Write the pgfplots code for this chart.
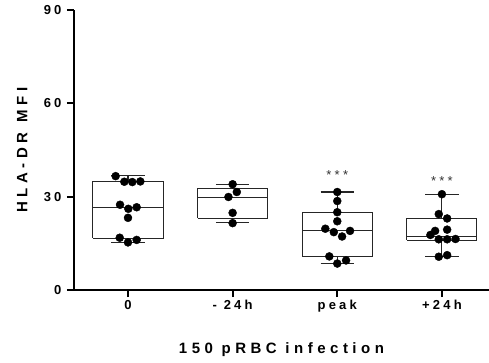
\documentclass[border=0pt]{standalone}
\usepackage{fontspec}
\setmainfont{Liberation Sans}
\newfontfamily\spaced{Liberation Sans}[LetterSpace=25]
\newfontfamily\spacedl{Liberation Sans}[LetterSpace=30]
\usepackage{pgfplots}
\pgfplotsset{compat=1.18}
\begin{document}
\begin{tikzpicture}
\begin{axis}[
 scale only axis, width=415pt, height=280pt,
 xmin=-0.516, xmax=3.45, ymin=0, ymax=90,
 unbounded coords=jump,
 axis lines=left, axis line style={-, line width=2pt, black},
 xtick={0,1,2,3}, xticklabels={0,- 24h,peak,+24h},
 ytick={0,30,60,90},
 tick align=outside, major tick length=7pt, tick style={line width=2pt, black},
 /pgf/number format/assume math mode=true,
 tick label style={font=\fontsize{13}{15}\selectfont\spaced\bfseries},
 yticklabel style={xshift=-2pt},
 xlabel={150 pRBC infection}, ylabel={\hbox{HLA-DR}\kern0.7em\hbox{MFI}},
 label style={font=\fontsize{15}{18}\selectfont\spacedl\bfseries},
 xlabel style={at={(axis description cs:0.5,-0.214)}, anchor=center},
 ylabel style={at={(axis description cs:-0.125,0.5)}, anchor=center},
 clip=false,
]
% box plots: box (q1..q3), median, whiskers with caps
\addplot[black!85, line width=1.05pt, mark=none] coordinates {
(-0.335,16.7) (0.335,16.7) (0.335,35.0) (-0.335,35.0) (-0.335,16.7) (nan,nan)
(-0.335,26.5) (0.335,26.5) (nan,nan) (0,35.0) (0,36.7) (nan,nan) (-0.16,36.7) (0.16,36.7) (nan,nan)
(0,16.7) (0,15.3) (nan,nan) (-0.16,15.3) (0.16,15.3)};
\addplot[black!85, line width=1.05pt, mark=none] coordinates {
(0.665,23.1) (1.335,23.1) (1.335,32.6) (0.665,32.6) (0.665,23.1) (nan,nan)
(0.665,29.8) (1.335,29.8) (nan,nan) (1,32.6) (1,33.9) (nan,nan) (0.84,33.9) (1.16,33.9) (nan,nan)
(1,23.1) (1,21.6) (nan,nan) (0.84,21.6) (1.16,21.6)};
\addplot[black!85, line width=1.05pt, mark=none] coordinates {
(1.665,10.7) (2.335,10.7) (2.335,25.0) (1.665,25.0) (1.665,10.7) (nan,nan)
(1.665,19.0) (2.335,19.0) (nan,nan) (2,25.0) (2,31.5) (nan,nan) (1.84,31.5) (2.16,31.5) (nan,nan)
(2,10.7) (2,8.6) (nan,nan) (1.84,8.6) (2.16,8.6)};
\addplot[black!85, line width=1.05pt, mark=none] coordinates {
(2.665,16.0) (3.335,16.0) (3.335,22.9) (2.665,22.9) (2.665,16.0) (nan,nan)
(2.665,17.2) (3.335,17.2) (nan,nan) (3,22.9) (3,30.8) (nan,nan) (2.84,30.8) (3.16,30.8) (nan,nan)
(3,16.0) (3,10.8) (nan,nan) (2.84,10.8) (3.16,10.8)};

\addplot[only marks, mark=*, mark size=4pt, black] coordinates {
(-0.118,36.6) (-0.035,34.8) (0.041,34.7) (0.118,34.9) (-0.076,27.4) (0.003,26.1)
(0.083,26.6) (0,23.2) (-0.079,16.8) (0,15.3) (0.083,16.1)};
\addplot[only marks, mark=*, mark size=4pt, black] coordinates {
(1.0,34.0) (1.04,31.5) (0.96,29.9) (1.0,24.8) (1.0,21.5)};
\addplot[only marks, mark=*, mark size=4pt, black] coordinates {
(2.0,31.5) (2.0,28.6) (2.0,25.0) (2.0,22.1) (1.886,19.7) (1.967,18.6)
(2.046,17.2) (2.122,19.0) (1.924,10.8) (2.0,8.5) (2.084,9.5)};
\addplot[only marks, mark=*, mark size=4pt, black] coordinates {
(3.0,30.8) (2.97,24.4) (3.05,23.0) (2.935,19.0) (3.05,19.4) (2.89,17.7)
(2.97,16.3) (3.05,16.3) (3.13,16.4) (2.97,10.7) (3.05,11.2)};

\node[font=\fontsize{13}{15}\selectfont\spaced, text=black!80] at (axis cs:2,37.0) {***};
\node[font=\fontsize{13}{15}\selectfont\spaced, text=black!80] at (axis cs:3,35.1) {***};
\end{axis}
\pgfresetboundingbox
\path[use as bounding box] (-74pt,-72pt) rectangle (415pt,290pt);
\end{tikzpicture}
\end{document}
